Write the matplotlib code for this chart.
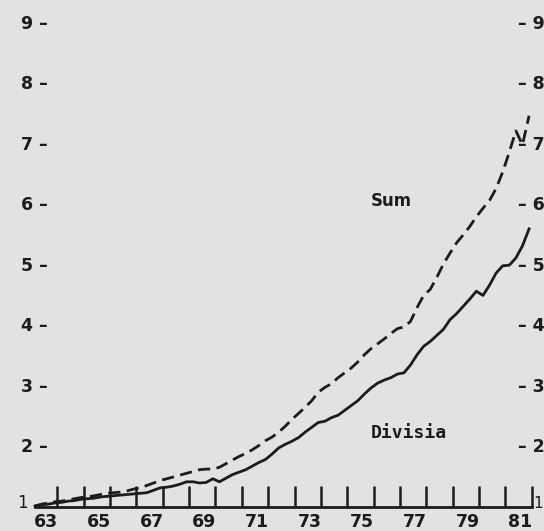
import numpy as np
import matplotlib
matplotlib.use("Agg")
import matplotlib.pyplot as plt

# Quarterly data, 1963Q1 .. 1981Q4 (index, 1963 = 1)
start_year = 1963.0
divisia = [
    1.00, 1.02, 1.03, 1.05, 1.06, 1.08, 1.09, 1.11,
    1.12, 1.13, 1.15, 1.16, 1.17, 1.18, 1.19, 1.20,
    1.21, 1.22, 1.26, 1.30, 1.31, 1.33, 1.36, 1.40,
    1.40, 1.38, 1.39, 1.45, 1.40, 1.46, 1.52, 1.56,
    1.60, 1.66, 1.72, 1.77, 1.86, 1.96, 2.02, 2.07,
    2.13, 2.22, 2.30, 2.38, 2.40, 2.46, 2.50, 2.58,
    2.66, 2.74, 2.85, 2.95, 3.03, 3.08, 3.12, 3.18,
    3.20, 3.33, 3.50, 3.64, 3.72, 3.82, 3.92, 4.08,
    4.18, 4.30, 4.42, 4.55, 4.48, 4.65, 4.85, 4.97,
    4.98, 5.10, 5.30, 5.58,
]
sum_index = [
    1.00, 1.03, 1.05, 1.07, 1.08, 1.10, 1.12, 1.14,
    1.15, 1.17, 1.19, 1.21, 1.22, 1.23, 1.25, 1.28,
    1.30, 1.34, 1.38, 1.42, 1.45, 1.48, 1.51, 1.54,
    1.57, 1.60, 1.61, 1.61, 1.64, 1.70, 1.76, 1.82,
    1.87, 1.93, 2.00, 2.08, 2.14, 2.22, 2.32, 2.43,
    2.53, 2.63, 2.74, 2.88, 2.96, 3.02, 3.12, 3.20,
    3.28, 3.38, 3.50, 3.60, 3.68, 3.76, 3.85, 3.93,
    3.96, 4.05, 4.28, 4.48, 4.58, 4.78, 5.00, 5.18,
    5.35, 5.48, 5.62, 5.78, 5.92, 6.05, 6.25, 6.52,
    6.85, 7.20, 6.97, 7.45,
]
years = list(range(63, 82))
label_years = list(range(63, 82, 2))
y_levels = list(range(2, 10))

t = start_year + 0.25 * np.arange(len(divisia))

W, H = 544, 531
fig = plt.figure(figsize=(W / 100, H / 100), dpi=100)
bg = "#e2e2e2"
ink = "#1c1c1c"
fig.patch.set_facecolor(bg)

# axes placement (pixel based)
px_per_year = 26.35
x_left_px, x_right_px = 35, 532
y_bot_px, y_top_px = 507.2, 0.8
ax = fig.add_axes([x_left_px / W, (H - y_bot_px) / H,
                   (x_right_px - x_left_px) / W, (y_bot_px - y_top_px) / H])
ax.set_facecolor(bg)
ax.set_xlim(start_year, start_year + (x_right_px - x_left_px) / px_per_year)
ax.set_ylim(0.98, 9.35)

for s in ["left", "right", "top"]:
    ax.spines[s].set_visible(False)
ax.spines["bottom"].set_linewidth(2.0)
ax.spines["bottom"].set_color(ink)

# x ticks: marks at year boundaries, labels offset
ax.set_xticks([1900 + y + 0.42 for y in label_years])
ax.set_xticklabels([str(y) for y in label_years])
ax.set_xticks([1900 + y + 0.85 for y in years], minor=True)
ax.tick_params(axis="x", which="major", length=0, pad=4.5,
               labelsize=12.5, labelcolor=ink)
ax.tick_params(axis="x", which="minor", direction="in", length=15,
               width=1.8, color=ink)
for lab in ax.get_xticklabels():
    lab.set_fontweight("bold")

# left y labels
ax.set_yticks(y_levels)
ax.set_yticklabels([f"{v} \u2013" for v in y_levels])
ax.tick_params(axis="y", which="both", length=0, pad=-9.4,
               labelsize=12.5, labelcolor=ink)
for lab in ax.get_yticklabels():
    lab.set_fontweight("bold")

# right y labels
ax2 = ax.twinx()
ax2.set_ylim(ax.get_ylim())
for s in ax2.spines.values():
    s.set_visible(False)
ax2.set_yticks(y_levels)
ax2.set_yticklabels([f"\u2013 {v}" for v in y_levels])
ax2.tick_params(axis="y", which="both", length=0, pad=-10.0,
                labelsize=12.5, labelcolor=ink)
for lab in ax2.get_yticklabels():
    lab.set_fontweight("bold")

# lines
ax.plot(t, divisia, color=ink, lw=2.0, solid_joinstyle="round", zorder=3,
        clip_on=False)
ax.plot(t, sum_index, color=ink, lw=2.0, dashes=(4.4, 2.3), zorder=3,
        clip_on=False)

# annotations
ax.text(1976.51, 6.04, "Sum", ha="center", va="center", fontsize=12,
        fontweight="bold", color=ink)
ax.text(1977.19, 2.21, "Divisia", ha="center", va="center", fontsize=13,
        fontweight="bold", color=ink, family="DejaVu Sans Mono")

# the "1" level labels
fig.text(22 / W, 1 - 503 / H, "1", ha="center", va="center", fontsize=12,
         color=ink)
fig.text(543 / W, 1 - 503 / H, "1", ha="right", va="center", fontsize=11,
         color=ink)

fig.savefig("out.png", dpi=100, facecolor=bg)
